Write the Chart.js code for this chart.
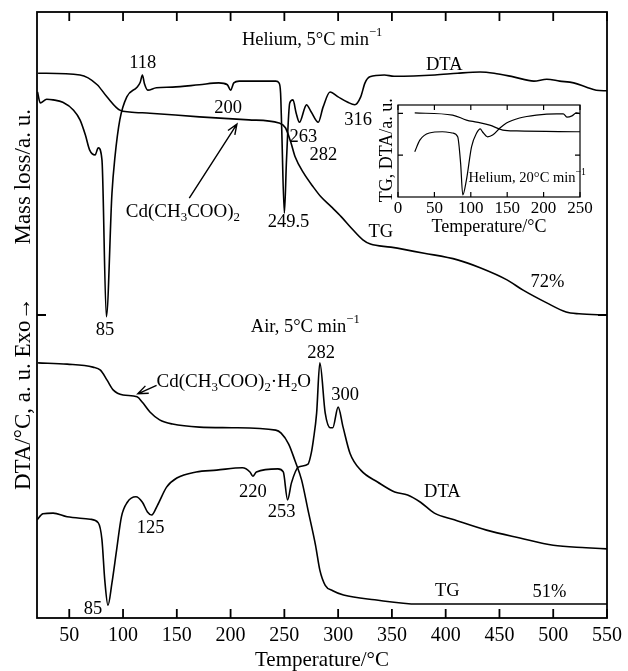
<!DOCTYPE html>
<html>
<head>
<meta charset="utf-8">
<script src="https://cdn.jsdelivr.net/npm/chart.js@4.4.0/dist/chart.umd.min.js"></script>
<style>
  html, body { margin: 0; padding: 0; background: #fff; }
  #wrap { position: relative; width: 628px; height: 671px; }
  #main { position: absolute; left: 0; top: 0; }
  #inset { position: absolute; left: 370px; top: 95px; }
</style>
</head>
<body>
<div id="wrap">
  <canvas id="main" width="628" height="671"></canvas>
  <canvas id="inset" width="230" height="145"></canvas>
</div>
<script>
// TG / DTA curves of cadmium acetate (y in arbitrary units 0..100)
const xTicks = [50, 100, 150, 200, 250, 300, 350, 400, 450, 500, 550];
const yTicks = [50];

// Helium, 5 °C/min — DTA
const heDtaT = [20.5, 23, 29, 35, 44, 54, 60, 65, 69, 74, 77, 80.4, 84.5, 89.7, 92.5, 97, 103.5, 113, 116, 118,
  120, 123, 131, 146, 171, 189, 197, 200, 203, 208, 242, 245, 246.5, 247.5, 250, 252, 255, 258, 261, 264,
  269, 270.5, 275, 281.5, 286, 292.5, 300, 309, 315.5, 321, 325, 329.5, 343, 352, 390, 411, 432, 445, 463, 482,
  494, 506, 519, 531, 540, 550];
const heDta = [86.8, 85.0, 85.6, 85.5, 85.1, 83.8, 82.2, 79.7, 77.2, 76.4, 77.6, 75.6, 49.7, 70.1, 76.1, 82.2, 86.0, 87.6, 88.4, 89.6,
  88.1, 87.1, 87.5, 87.6, 88.0, 88.3, 88.0, 87.1, 88.3, 88.6, 88.6, 88.3, 86.6, 81.0, 66.8, 75.6, 85.0, 85.5, 83.3, 81.8,
  84.2, 84.7, 83.5, 81.8, 84.3, 86.8, 86.0, 85.1, 84.7, 86.0, 88.3, 89.3, 89.6, 89.4, 89.6, 89.9, 90.1, 89.9, 89.3, 88.6,
  88.9, 88.6, 88.3, 87.6, 87.1, 87.0];

// Helium, 5 °C/min — TG
const heTgT = [21, 60, 76, 85, 97, 106, 125, 171, 217, 245, 251, 256, 260, 268, 277, 284, 294, 303, 312, 323,
  330, 349, 380, 411, 432, 457, 472, 494, 512, 524, 550];
const heTg = [89.9, 89.6, 88.0, 86.0, 83.8, 83.5, 83.3, 82.7, 82.2, 81.7, 80.9, 78.5, 76.1, 73.4, 71.1, 69.5, 67.8, 66.2, 64.4, 62.4,
  61.7, 61.2, 60.2, 59.1, 57.8, 55.8, 54.1, 52.0, 50.5, 50.2, 50.0];

// Air, 5 °C/min — TG
const airTgT = [21, 48, 72, 79, 85, 91, 100, 113, 118, 125, 134, 146, 171, 201, 242, 247, 254, 260, 266, 272,
  279, 283, 288, 295, 305, 334, 374, 550];
const airTg = [42.1, 41.9, 41.4, 40.9, 39.3, 37.6, 36.8, 36.5, 35.6, 34.0, 32.7, 32.0, 31.5, 31.4, 31.0, 30.5, 28.7, 25.9, 22.8, 17.8,
  12.0, 7.9, 5.4, 4.5, 3.8, 3.0, 2.3, 2.3];

// Air, 5 °C/min — DTA
const airDtaT = [20, 25.5, 35, 48, 69.4, 77, 80.4, 83, 86, 89.7, 94, 98.5, 104, 112, 118, 122.7, 126.6, 132, 140.5, 150,
  168, 187, 211, 218, 220.7, 224, 244, 249, 253, 256.6, 263, 272, 275, 277, 280, 283, 288, 292.6, 295, 300,
  304.6, 311, 321, 337, 352.6, 364.6, 376.6, 389.5, 408, 438, 469, 500, 530.6, 550];
const airDta = [16.2, 17.2, 17.3, 16.7, 16.3, 15.7, 12.9, 6.3, 2.1, 5.8, 11.2, 16.7, 19.1, 20.0, 19.1, 17.5, 17.0, 18.6, 21.6, 23.1,
  24.1, 24.4, 24.8, 24.1, 23.4, 24.1, 24.6, 24.1, 19.5, 22.3, 24.9, 25.4, 27.2, 29.4, 33.8, 42.1, 33.8, 31.4, 31.4, 34.8,
  31.5, 27.2, 24.4, 22.4, 20.8, 20.3, 19.1, 17.3, 16.2, 14.5, 13.2, 12.0, 11.6, 11.4];

// inset: Helium, 20 °C/min
const insetXTicks = [0, 50, 100, 150, 200, 250];
const insetYTicks = [1, 2];
const insetTgT = [23, 75, 94, 108, 126, 144, 163, 250];
const insetTg = [2.01, 1.96, 1.84, 1.79, 1.72, 1.60, 1.58, 1.56];
const insetDtaT = [23, 30, 43, 61, 75, 82, 86, 89, 94, 101, 108, 113, 116, 123, 130, 140, 149, 167, 190, 218,
  227, 232, 239, 245, 250];
const insetDta = [1.08, 1.36, 1.53, 1.56, 1.53, 1.44, 0.81, 0.05, 0.41, 1.20, 1.53, 1.63, 1.56, 1.44, 1.48, 1.65, 1.77, 1.89, 1.96, 1.99,
  1.99, 1.91, 1.94, 2.01, 1.99];

const FONT = '"Liberation Serif", "Times New Roman", serif';
const toPoints = (xs, ys) => xs.map((x, i) => ({ x: x, y: ys[i] }));

// text with sub/superscripts, parts = [[text, 'sub'|'sup'|undefined], ...]
function drawRich(ctx, parts, x, y, size, align) {
  const fontFor = m => (m ? size * 0.68 : size) + 'px ' + FONT;
  let w = 0;
  parts.forEach(([s, m]) => { ctx.font = fontFor(m); w += ctx.measureText(s).width; });
  let cx = align === 'left' ? x : (align === 'right' ? x - w : x - w / 2);
  ctx.textAlign = 'left';
  ctx.textBaseline = 'middle';
  parts.forEach(([s, m]) => {
    ctx.font = fontFor(m);
    const dy = m === 'sub' ? size * 0.3 : (m === 'sup' ? -size * 0.38 : 0);
    ctx.fillText(s, cx, y + dy);
    cx += ctx.measureText(s).width;
  });
}

function drawArrow(ctx, x1, y1, x2, y2) {
  const ang = Math.atan2(y2 - y1, x2 - x1), h = 11, spread = 0.38;
  ctx.beginPath();
  ctx.moveTo(x1, y1);
  ctx.lineTo(x2, y2);
  ctx.moveTo(x2 - h * Math.cos(ang - spread), y2 - h * Math.sin(ang - spread));
  ctx.lineTo(x2, y2);
  ctx.lineTo(x2 - h * Math.cos(ang + spread), y2 - h * Math.sin(ang + spread));
  ctx.stroke();
}

// box around the plot with inward ticks
const frameTicks = {
  id: 'frameTicks',
  afterDraw(chart, args, opts) {
    const { ctx, chartArea: a, scales: { x, y } } = chart;
    ctx.save();
    ctx.strokeStyle = '#000';
    ctx.lineWidth = opts.lineWidth;
    ctx.strokeRect(a.left, a.top, a.right - a.left, a.bottom - a.top);
    ctx.beginPath();
    x.ticks.forEach(t => {
      const px = x.getPixelForValue(t.value);
      ctx.moveTo(px, a.bottom); ctx.lineTo(px, a.bottom - opts.len);
      ctx.moveTo(px, a.top); ctx.lineTo(px, a.top + opts.len);
    });
    opts.yTicks.forEach(v => {
      const py = y.getPixelForValue(v);
      ctx.moveTo(a.left, py); ctx.lineTo(a.left + opts.len, py);
      ctx.moveTo(a.right, py); ctx.lineTo(a.right - opts.len, py);
    });
    ctx.stroke();
    ctx.restore();
  }
};

// peak labels, arrows and rotated y titles
const notes = {
  id: 'notes',
  afterDraw(chart, args, opts) {
    const { ctx, chartArea: a, scales: { x, y } } = chart;
    ctx.save();
    ctx.fillStyle = '#000';
    ctx.strokeStyle = '#000';
    ctx.lineWidth = 1.4;
    (opts.items || []).forEach(n => {
      drawRich(ctx, n.parts, x.getPixelForValue(n.t), y.getPixelForValue(n.v), n.size || opts.size, n.align || 'center');
    });
    (opts.arrows || []).forEach(r => {
      drawArrow(ctx, x.getPixelForValue(r.from[0]), y.getPixelForValue(r.from[1]),
        x.getPixelForValue(r.to[0]), y.getPixelForValue(r.to[1]));
    });
    (opts.yTitles || []).forEach(t => {
      ctx.save();
      ctx.translate(a.left + t.dx, y.getPixelForValue(t.v));
      ctx.rotate(-Math.PI / 2);
      drawRich(ctx, t.parts, 0, 0, t.size, 'center');
      ctx.restore();
    });
    ctx.restore();
  }
};

const lineStyle = { borderColor: '#000', borderWidth: 1.6, pointRadius: 0, fill: false, cubicInterpolationMode: 'monotone' };

new Chart(document.getElementById('main'), {
  type: 'line',
  data: {
    datasets: [
      Object.assign({ label: 'DTA helium', data: toPoints(heDtaT, heDta) }, lineStyle),
      Object.assign({ label: 'TG helium', data: toPoints(heTgT, heTg) }, lineStyle),
      Object.assign({ label: 'TG air', data: toPoints(airTgT, airTg) }, lineStyle),
      Object.assign({ label: 'DTA air', data: toPoints(airDtaT, airDta) }, lineStyle)
    ]
  },
  options: {
    responsive: false,
    animation: false,
    devicePixelRatio: 1,
    layout: { padding: { left: 37, right: 17, top: 12, bottom: 0 } },
    plugins: {
      legend: { display: false },
      tooltip: { enabled: false },
      frameTicks: { len: 9, lineWidth: 1.8, yTicks: yTicks },
      notes: {
        size: 18.5,
        items: [
          { t: 210.5, v: 95.4, align: 'left', parts: [['Helium, 5°C min'], ['−1', 'sup']] },
          { t: 398.7, v: 91.3, parts: [['DTA']] },
          { t: 118.3, v: 91.6, parts: [['118']] },
          { t: 197.6, v: 84.2, parts: [['200']] },
          { t: 102.6, v: 67.0, align: 'left', size: 19, parts: [['Cd(CH'], ['3', 'sub'], ['COO)'], ['2', 'sub']] },
          { t: 253.9, v: 65.3, parts: [['249.5']] },
          { t: 267.7, v: 79.4, parts: [['263']] },
          { t: 286.2, v: 76.4, parts: [['282']] },
          { t: 318.5, v: 82.2, parts: [['316']] },
          { t: 339.7, v: 63.7, parts: [['TG']] },
          { t: 494.6, v: 55.4, parts: [['72%']] },
          { t: 83.2, v: 47.5, parts: [['85']] },
          { t: 218.8, v: 48.0, align: 'left', parts: [['Air, 5°C min'], ['−1', 'sup']] },
          { t: 284.3, v: 43.7, parts: [['282']] },
          { t: 306.5, v: 36.8, parts: [['300']] },
          { t: 131.2, v: 38.9, align: 'left', size: 19, parts: [['Cd(CH'], ['3', 'sub'], ['COO)'], ['2', 'sub'], ['·H'], ['2', 'sub'], ['O']] },
          { t: 396.9, v: 20.8, parts: [['DTA']] },
          { t: 220.7, v: 20.8, parts: [['220']] },
          { t: 247.4, v: 17.5, parts: [['253']] },
          { t: 125.6, v: 14.9, parts: [['125']] },
          { t: 72.1, v: 1.5, parts: [['85']] },
          { t: 401.5, v: 4.5, parts: [['TG']] },
          { t: 496.5, v: 4.3, parts: [['51%']] }
        ],
        arrows: [
          { from: [161.6, 69.3], to: [205.9, 81.5] },
          { from: [131.2, 38.4], to: [113.7, 37.0] }
        ],
        yTitles: [
          { v: 72.8, dx: -13, size: 23, parts: [['Mass loss/a. u.']] },
          { v: 37.0, dx: -13, size: 23, parts: [['DTA/°C, a. u. Exo→']] }
        ]
      }
    },
    scales: {
      x: {
        type: 'linear', min: 20, max: 550,
        grid: { display: false, drawTicks: false },
        border: { display: false },
        afterBuildTicks: axis => { axis.ticks = xTicks.map(v => ({ value: v })); },
        afterFit: axis => { axis.height = 53; },
        ticks: { color: '#000', padding: 6, maxRotation: 0, font: { family: FONT, size: 20 } },
        title: { display: true, text: 'Temperature/°C', color: '#000', padding: { top: 0, bottom: 0 }, font: { family: FONT, size: 21, lineHeight: 1 } }
      },
      y: { display: false, min: 0, max: 100 }
    }
  },
  plugins: [frameTicks, notes]
});

// inset chart (Helium, 20 °C/min)
new Chart(document.getElementById('inset'), {
  type: 'line',
  data: {
    datasets: [
      Object.assign({ label: 'TG', data: toPoints(insetTgT, insetTg) }, lineStyle, { borderWidth: 1.2 }),
      Object.assign({ label: 'DTA', data: toPoints(insetDtaT, insetDta) }, lineStyle, { borderWidth: 1.2 })
    ]
  },
  options: {
    responsive: false,
    animation: false,
    devicePixelRatio: 1,
    layout: { padding: { left: 28, right: 20, top: 10, bottom: 0 } },
    plugins: {
      legend: { display: false },
      tooltip: { enabled: false },
      frameTicks: { len: 5, lineWidth: 1.2, yTicks: insetYTicks },
      notes: {
        size: 14.5,
        items: [
          { t: 97, v: 0.45, align: 'left', parts: [['Helium, 20°C min'], ['−1', 'sup']] }
        ],
        yTitles: [
          { v: 1.12, dx: -11, size: 18, parts: [['TG, DTA/a. u.']] }
        ]
      }
    },
    scales: {
      x: {
        type: 'linear', min: 0, max: 250,
        grid: { display: false, drawTicks: false },
        border: { display: false },
        afterBuildTicks: axis => { axis.ticks = insetXTicks.map(v => ({ value: v })); },
        afterFit: axis => { axis.height = 43; },
        ticks: { color: '#000', padding: 1, maxRotation: 0, font: { family: FONT, size: 17 } },
        title: { display: true, text: 'Temperature/°C', color: '#000', padding: { top: 0, bottom: 4 }, font: { family: FONT, size: 18, lineHeight: 1 } }
      },
      y: { display: false, min: 0, max: 2.2 }
    }
  },
  plugins: [frameTicks, notes]
});
</script>
</body>
</html>
